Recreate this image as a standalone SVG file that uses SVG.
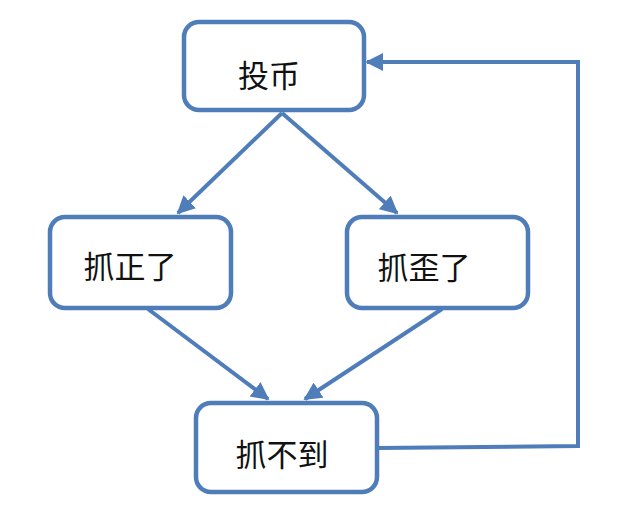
<svg xmlns="http://www.w3.org/2000/svg" width="620" height="506" viewBox="0 0 620 506">
<defs>
<style>
.box{fill:#fff;stroke:#4f7db9;stroke-width:4.5}
.lbl{font-family:"Noto Sans CJK SC","Noto Sans",sans-serif;font-size:31px;fill:#111;text-anchor:middle;dominant-baseline:central}
.con{fill:none;stroke:#4f7db9;stroke-width:4;stroke-linejoin:miter}
</style>
<marker id="ah" viewBox="0 0 10 10" refX="9" refY="5" markerWidth="4.5" markerHeight="4.5" orient="auto" markerUnits="strokeWidth">
<path d="M0,0 L10,5 L0,10 z" fill="#4f7db9"/>
</marker>
</defs>
<rect width="620" height="506" fill="#fff"/>
<g id="connectors">
<line class="con" x1="282" y1="113" x2="178" y2="213" marker-end="url(#ah)"/>
<line class="con" x1="282" y1="113" x2="397" y2="213" marker-end="url(#ah)"/>
<line class="con" x1="148" y1="309" x2="268" y2="399" marker-end="url(#ah)"/>
<line class="con" x1="442" y1="309" x2="305" y2="399" marker-end="url(#ah)"/>
<polyline class="con" points="378,448 578,446 578,62 367,62" marker-end="url(#ah)"/>
</g>
<g id="n1"><rect class="box" x="184" y="22" width="180" height="88" rx="15"/><text class="lbl" x="269" y="73">投币</text></g>
<g id="n2"><rect class="box" x="50" y="217" width="181" height="91" rx="15"/><text class="lbl" x="130" y="264">抓正了</text></g>
<g id="n3"><rect class="box" x="347" y="217" width="181" height="91" rx="15"/><text class="lbl" x="424" y="265">抓歪了</text></g>
<g id="n4"><rect class="box" x="196" y="403" width="181" height="89" rx="15"/><text class="lbl" x="282" y="452">抓不到</text></g>
</svg>
